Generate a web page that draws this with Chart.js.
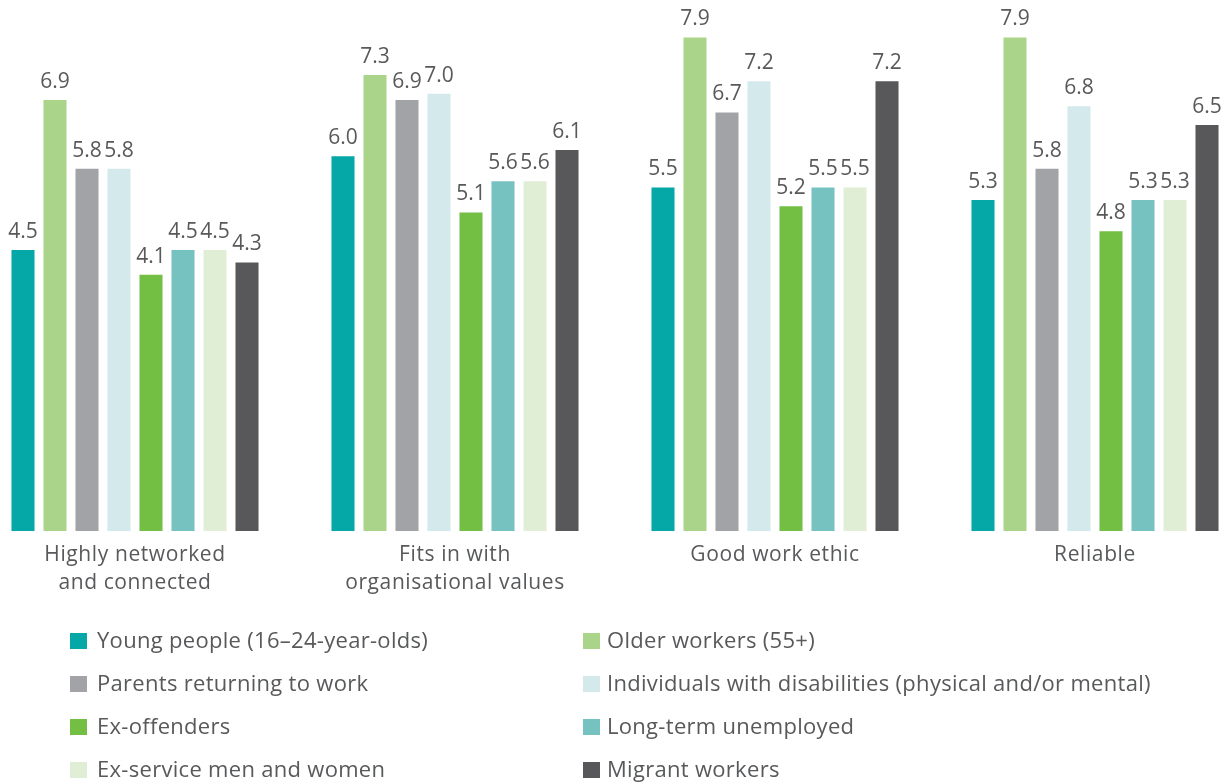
<!DOCTYPE html>
<html>
<head>
<meta charset="utf-8">
<script src="https://cdn.jsdelivr.net/npm/chart.js@4.4.0/dist/chart.umd.min.js"></script>
<style>
  html, body { margin: 0; padding: 0; background: #fff; overflow: hidden; width: 1225px; height: 783px; }
  #wrap { position: absolute; left: -25px; top: 0; width: 1280px; height: 783px; }
</style>
</head>
<body>
<div id="wrap"><canvas id="c" width="1280" height="783"></canvas></div>
<script>
const categories = [["Highly networked", "and connected"], ["Fits in with", "organisational values"], ["Good work ethic"], ["Reliable"]];
const seriesNames = [
  "Young people (16\u201324-year-olds)",
  "Older workers (55+)",
  "Parents returning to work",
  "Individuals with disabilities (physical and/or mental)",
  "Ex-offenders",
  "Long-term unemployed",
  "Ex-service men and women",
  "Migrant workers"
];
const seriesColors = ["#05a8a6", "#a9d489", "#a2a3a7", "#d4e9ec", "#72bf44", "#76c2c0", "#e0eed6", "#58585a"];
const youngPeople   = [4.5, 6.0, 5.5, 5.3];
const olderWorkers  = [6.9, 7.3, 7.9, 7.9];
const parents       = [5.8, 6.9, 6.7, 5.8];
const disabilities  = [5.8, 7.0, 7.2, 6.8];
const exOffenders   = [4.1, 5.1, 5.2, 4.8];
const longTermUnemp = [4.5, 5.6, 5.5, 5.3];
const exService     = [4.5, 5.6, 5.5, 5.3];
const migrants      = [4.3, 6.1, 7.2, 6.5];
const seriesValues = [youngPeople, olderWorkers, parents, disabilities, exOffenders, longTermUnemp, exService, migrants];

const textColor = "#58595b";
const fontFamily = "'Open Sans', sans-serif";
const OFFSET_X = 25; // canvas is shifted left by this much

const valueLabels = {
  id: "valueLabels",
  afterDatasetsDraw(chart) {
    const ctx = chart.ctx;
    ctx.save();
    ctx.fillStyle = textColor;
    ctx.font = "21px " + fontFamily;
    ctx.textAlign = "center";
    ctx.textBaseline = "alphabetic";
    chart.data.datasets.forEach((ds, i) => {
      chart.getDatasetMeta(i).data.forEach((bar, j) => {
        ctx.fillText(ds.data[j].toFixed(1), bar.x, bar.y - 12);
      });
    });
    ctx.restore();
  }
};
const catLabels = {
  id: "catLabels",
  afterDraw(chart) {
    const ctx = chart.ctx;
    const xs = chart.scales.x;
    const base = chart.scales.y.getPixelForValue(0);
    ctx.save();
    ctx.fillStyle = textColor;
    ctx.font = "21px " + fontFamily;
    ctx.letterSpacing = "0.6px";
    ctx.textAlign = "center";
    ctx.textBaseline = "alphabetic";
    categories.forEach((lines, i) => {
      const x = xs.getPixelForValue(i);
      lines.forEach((l, k) => ctx.fillText(l, x, base + 30 + k * 28));
    });
    ctx.restore();
  }
};
const customLegend = {
  id: "customLegend",
  afterDraw(chart) {
    const ctx = chart.ctx;
    const colSq = [70, 583], colTx = [97, 607];
    const rowBase = [648, 691, 734, 777];
    ctx.save();
    ctx.font = "22px " + fontFamily;
    ctx.letterSpacing = "0.3px";
    ctx.textAlign = "left";
    ctx.textBaseline = "alphabetic";
    seriesNames.forEach((n, i) => {
      const c = i % 2, r = Math.floor(i / 2);
      ctx.fillStyle = seriesColors[i];
      ctx.fillRect(colSq[c] + OFFSET_X, rowBase[r] - 15, 17, 16);
      ctx.fillStyle = textColor;
      ctx.fillText(n, colTx[c] + OFFSET_X, rowBase[r]);
    });
    ctx.restore();
  }
};

new Chart(document.getElementById("c"), {
  type: "bar",
  data: {
    labels: categories.map(c => c.join(" ")),
    datasets: seriesNames.map((n, i) => ({
      label: n,
      data: seriesValues[i],
      backgroundColor: seriesColors[i],
      borderWidth: 0,
      categoryPercentage: 0.8,
      barPercentage: 0.72
    }))
  },
  options: {
    responsive: false,
    animation: false,
    events: [],
    layout: { padding: { top: 0, bottom: 252, left: 0, right: 0 } },
    plugins: { legend: { display: false }, tooltip: { enabled: false } },
    scales: {
      x: { display: false },
      y: { display: false, min: 0, max: 8.5 }
    }
  },
  plugins: [valueLabels, catLabels, customLegend]
});
</script>
</body>
</html>
